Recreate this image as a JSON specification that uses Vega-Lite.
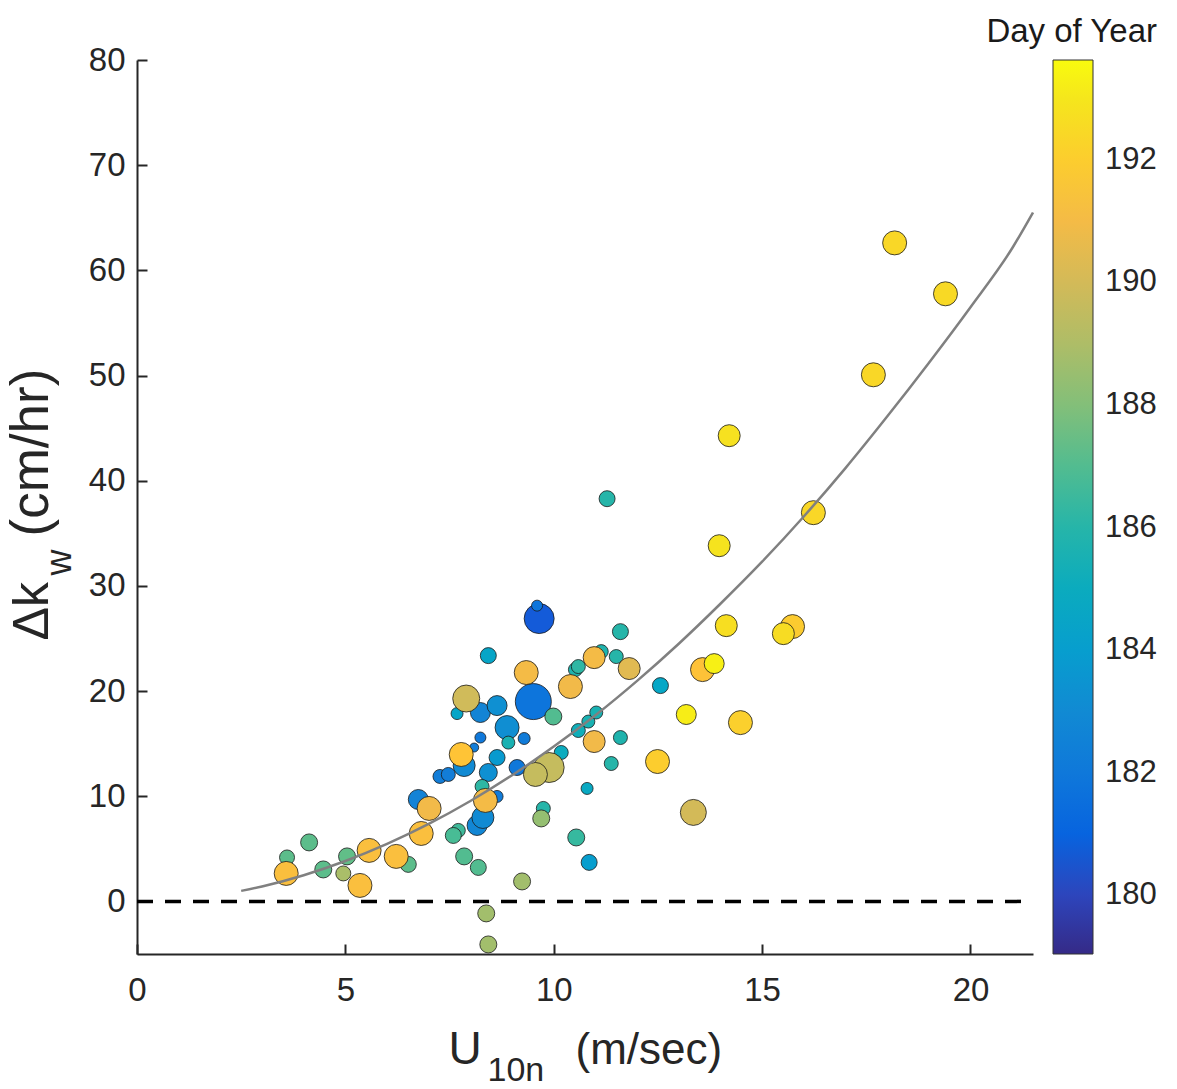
{
  "$schema": "https://vega.github.io/schema/vega-lite/v6.json",
  "width": 896,
  "height": 894,
  "autosize": {"type": "none"},
  "padding": {"left": 137, "top": 60, "right": 144, "bottom": 135},
  "background": "white",
  "config": {
    "view": {"stroke": null},
    "font": "Liberation Sans",
    "axis": {
      "domainColor": "#262626", "domainWidth": 2,
      "tickColor": "#262626", "tickWidth": 2,
      "labelColor": "#262626", "titleColor": "#262626",
      "titleFontWeight": "normal", "labelFont": "Liberation Sans", "titleFont": "Liberation Sans",
      "grid": false, "labelFlush": false
    }
  },
  "resolve": {
    "scale": {"x": "independent", "y": "independent"},
    "axis": {"x": "independent", "y": "independent"}
  },
  "layer": [
    {
      "data": {"values": [
        {"u": 9.65, "dk": 26.89, "doy": 180.7, "w": 30},
        {"u": 9.60, "dk": 28.12, "doy": 181.8, "w": 11},
        {"u": 9.51, "dk": 19.0, "doy": 181.8, "w": 36},
        {"u": 9.12, "dk": 12.73, "doy": 182.0, "w": 16},
        {"u": 8.24, "dk": 15.58, "doy": 182.0, "w": 11},
        {"u": 9.29, "dk": 15.49, "doy": 182.2, "w": 12},
        {"u": 8.64, "dk": 9.98, "doy": 182.2, "w": 12},
        {"u": 7.27, "dk": 11.88, "doy": 182.3, "w": 14},
        {"u": 7.47, "dk": 12.07, "doy": 182.3, "w": 14},
        {"u": 8.09, "dk": 14.63, "doy": 182.3, "w": 9},
        {"u": 6.75, "dk": 9.69, "doy": 182.6, "w": 20},
        {"u": 8.24, "dk": 17.96, "doy": 182.7, "w": 20},
        {"u": 8.16, "dk": 7.22, "doy": 182.8, "w": 20},
        {"u": 7.85, "dk": 12.92, "doy": 183.0, "w": 22},
        {"u": 8.30, "dk": 7.98, "doy": 183.0, "w": 22},
        {"u": 8.88, "dk": 16.53, "doy": 183.2, "w": 24},
        {"u": 8.64, "dk": 18.62, "doy": 183.3, "w": 20},
        {"u": 8.43, "dk": 12.26, "doy": 183.3, "w": 18},
        {"u": 8.64, "dk": 13.68, "doy": 183.8, "w": 16},
        {"u": 10.85, "dk": 3.71, "doy": 184.0, "w": 16},
        {"u": 7.68, "dk": 17.86, "doy": 184.5, "w": 12},
        {"u": 8.43, "dk": 23.37, "doy": 184.5, "w": 16},
        {"u": 12.56, "dk": 20.52, "doy": 184.6, "w": 16},
        {"u": 10.80, "dk": 10.74, "doy": 184.8, "w": 12},
        {"u": 10.18, "dk": 14.16, "doy": 185.0, "w": 14},
        {"u": 10.59, "dk": 16.25, "doy": 185.3, "w": 14},
        {"u": 8.91, "dk": 15.1, "doy": 185.6, "w": 13},
        {"u": 10.83, "dk": 17.1, "doy": 185.6, "w": 13},
        {"u": 11.02, "dk": 17.96, "doy": 185.6, "w": 13},
        {"u": 11.6, "dk": 15.58, "doy": 185.8, "w": 14},
        {"u": 10.52, "dk": 22.04, "doy": 185.8, "w": 14},
        {"u": 11.14, "dk": 23.75, "doy": 185.8, "w": 14},
        {"u": 9.75, "dk": 8.84, "doy": 186.0, "w": 14},
        {"u": 11.38, "dk": 13.11, "doy": 186.0, "w": 14},
        {"u": 11.5, "dk": 23.28, "doy": 186.0, "w": 14},
        {"u": 11.6, "dk": 25.65, "doy": 186.0, "w": 16},
        {"u": 11.28, "dk": 38.29, "doy": 186.0, "w": 16},
        {"u": 8.28, "dk": 10.93, "doy": 186.2, "w": 14},
        {"u": 10.59, "dk": 22.33, "doy": 186.2, "w": 14},
        {"u": 10.54, "dk": 6.08, "doy": 186.4, "w": 17},
        {"u": 7.71, "dk": 6.75, "doy": 186.6, "w": 14},
        {"u": 7.59, "dk": 6.27, "doy": 186.8, "w": 16},
        {"u": 7.85, "dk": 4.28, "doy": 187.0, "w": 17},
        {"u": 8.19, "dk": 3.23, "doy": 187.0, "w": 16},
        {"u": 9.99, "dk": 17.58, "doy": 187.0, "w": 17},
        {"u": 3.60, "dk": 4.18, "doy": 187.2, "w": 15},
        {"u": 4.13, "dk": 5.61, "doy": 187.2, "w": 17},
        {"u": 4.47, "dk": 3.04, "doy": 187.2, "w": 17},
        {"u": 6.51, "dk": 3.52, "doy": 187.2, "w": 16},
        {"u": 5.04, "dk": 4.28, "doy": 187.3, "w": 17},
        {"u": 9.70, "dk": 7.89, "doy": 188.4, "w": 17},
        {"u": 9.24, "dk": 1.9, "doy": 188.7, "w": 17},
        {"u": 8.38, "dk": -1.14, "doy": 188.7, "w": 17},
        {"u": 8.43, "dk": -4.09, "doy": 188.7, "w": 17},
        {"u": 4.95, "dk": 2.66, "doy": 188.9, "w": 15},
        {"u": 9.89, "dk": 12.73, "doy": 189.6, "w": 30},
        {"u": 9.56, "dk": 12.07, "doy": 189.6, "w": 24},
        {"u": 7.90, "dk": 19.29, "doy": 189.9, "w": 27},
        {"u": 13.35, "dk": 8.46, "doy": 190.0, "w": 26},
        {"u": 11.81, "dk": 22.14, "doy": 190.4, "w": 22},
        {"u": 7.01, "dk": 8.84, "doy": 190.9, "w": 24},
        {"u": 10.97, "dk": 15.2, "doy": 190.9, "w": 22},
        {"u": 10.40, "dk": 20.43, "doy": 190.9, "w": 24},
        {"u": 8.36, "dk": 9.6, "doy": 191.0, "w": 24},
        {"u": 9.34, "dk": 21.76, "doy": 191.0, "w": 24},
        {"u": 10.97, "dk": 23.18, "doy": 191.0, "w": 22},
        {"u": 3.58, "dk": 2.66, "doy": 191.3, "w": 24},
        {"u": 5.35, "dk": 1.52, "doy": 191.3, "w": 24},
        {"u": 5.57, "dk": 4.85, "doy": 191.3, "w": 24},
        {"u": 6.22, "dk": 4.28, "doy": 191.3, "w": 24},
        {"u": 6.82, "dk": 6.46, "doy": 191.3, "w": 24},
        {"u": 13.57, "dk": 22.04, "doy": 191.5, "w": 24},
        {"u": 7.78, "dk": 13.97, "doy": 191.6, "w": 24},
        {"u": 15.73, "dk": 26.13, "doy": 191.9, "w": 24},
        {"u": 12.49, "dk": 13.3, "doy": 192.0, "w": 24},
        {"u": 14.48, "dk": 17.0, "doy": 192.1, "w": 24},
        {"u": 16.23, "dk": 36.96, "doy": 192.4, "w": 24},
        {"u": 17.67, "dk": 50.07, "doy": 192.4, "w": 24},
        {"u": 18.18, "dk": 62.61, "doy": 192.4, "w": 24},
        {"u": 19.40, "dk": 57.77, "doy": 192.5, "w": 24},
        {"u": 15.51, "dk": 25.46, "doy": 192.6, "w": 22},
        {"u": 14.14, "dk": 26.22, "doy": 192.7, "w": 22},
        {"u": 14.21, "dk": 44.28, "doy": 192.8, "w": 22},
        {"u": 13.97, "dk": 33.82, "doy": 192.9, "w": 22},
        {"u": 13.18, "dk": 17.77, "doy": 193.2, "w": 20},
        {"u": 13.85, "dk": 22.61, "doy": 193.3, "w": 20}
      ]},
      "mark": {"type": "point", "shape": "circle", "filled": true, "opacity": 1, "stroke": "#1a1a1a", "strokeWidth": 0.8},
      "encoding": {
        "x": {"field": "u", "type": "quantitative",
          "scale": {"domain": [0, 21.5], "nice": false, "zero": false},
          "axis": {"orient": "bottom", "values": [0, 5, 10, 15, 20], "title": "U",
            "titleX": 311, "titleY": 109, "titleAlign": "left", "titleAnchor": "start", "titleBaseline": "alphabetic",
            "titleFontSize": 46, "labelFontSize": 33, "labelPadding": 30, "tickSize": -10}},
        "y": {"field": "dk", "type": "quantitative",
          "scale": {"domain": [-5, 80], "nice": false, "zero": false},
          "axis": {"orient": "left", "values": [0, 10, 20, 30, 40, 50, 60, 70, 80], "title": "Δk",
            "titleX": -90, "titleY": 580, "titleAngle": 270, "titleAlign": "left", "titleAnchor": "start", "titleBaseline": "alphabetic",
            "titleFontSize": 50, "labelFontSize": 33, "labelPadding": 22, "tickSize": -10}},
        "color": {"field": "doy", "type": "quantitative",
          "scale": {"domain": [179.04, 193.63], "interpolate": "rgb",
            "range": ["#352a87", "#353dad", "#2053d4", "#0268e1", "#0d75dc", "#1481d6", "#108ed2", "#079ccf", "#06a7c6", "#0faeb9", "#25b5a9", "#42bb98", "#65be86", "#87bf77", "#a5be6b", "#c0bc60", "#d9ba56", "#f1b94a", "#ffc337", "#fad32a", "#f5e41d", "#f9fb0e"]},
          "legend": {"orient": "none", "legendX": 849, "legendY": -44, "direction": "vertical",
            "gradientLength": 894, "gradientThickness": 40, "gradientStrokeColor": "#333333", "gradientStrokeWidth": 1,
            "title": "Day of Year", "titleFontSize": 33, "titleFontWeight": "normal", "titleColor": "#1a1a1a",
            "titleAnchor": "end", "titleAlign": "right", "titlePadding": 11, "titleLimit": 400, "titleFont": "Liberation Sans",
            "labelFontSize": 31, "labelColor": "#262626", "labelOffset": 12, "labelFont": "Liberation Sans",
            "values": [180, 182, 184, 186, 188, 190, 192], "labelOverlap": false}},
        "size": {"field": "w", "type": "quantitative",
          "scale": {"type": "pow", "exponent": 2, "domain": [0, 36], "range": [0, 1296], "zero": true},
          "legend": null}
      }
    },
    {
      "data": {"values": [
        {"u": 2.5, "k": 1.0}, {"u": 3, "k": 1.42}, {"u": 4, "k": 2.49}, {"u": 5, "k": 3.84},
        {"u": 6, "k": 5.47}, {"u": 7, "k": 7.37}, {"u": 8, "k": 9.55}, {"u": 9, "k": 12.0},
        {"u": 10, "k": 14.72}, {"u": 11, "k": 17.7}, {"u": 12, "k": 20.97}, {"u": 13, "k": 24.5},
        {"u": 14, "k": 28.3}, {"u": 15, "k": 32.3}, {"u": 16, "k": 36.6}, {"u": 17, "k": 41.2},
        {"u": 18, "k": 46.1}, {"u": 19, "k": 51.2}, {"u": 20, "k": 56.5}, {"u": 21, "k": 62.1},
        {"u": 21.5, "k": 65.5}
      ]},
      "mark": {"type": "line", "color": "#808080", "strokeWidth": 2.5, "interpolate": "monotone"},
      "encoding": {
        "x": {"field": "u", "type": "quantitative",
          "scale": {"domain": [0, 21.5], "nice": false, "zero": false},
          "axis": {"orient": "bottom", "labels": false, "ticks": false, "domain": false, "title": "10n",
            "titleX": 350, "titleY": 126, "titleAlign": "left", "titleAnchor": "start", "titleBaseline": "alphabetic",
            "titleFontSize": 34}},
        "y": {"field": "k", "type": "quantitative",
          "scale": {"domain": [-5, 80], "nice": false, "zero": false},
          "axis": {"orient": "left", "labels": false, "ticks": false, "domain": false, "title": "w",
            "titleX": -67, "titleY": 515, "titleAngle": 270, "titleAlign": "left", "titleAnchor": "start", "titleBaseline": "alphabetic",
            "titleFontSize": 36}}
      }
    },
    {
      "data": {"values": [{"a": 0, "b": 21.5, "z": 0}]},
      "mark": {"type": "rule", "color": "black", "strokeWidth": 3.5, "strokeDash": [16, 12]},
      "encoding": {
        "x": {"field": "a", "type": "quantitative",
          "scale": {"domain": [0, 21.5], "nice": false, "zero": false},
          "axis": {"orient": "bottom", "labels": false, "ticks": false, "domain": false, "title": "(m/sec)",
            "titleX": 438, "titleY": 109, "titleAlign": "left", "titleAnchor": "start", "titleBaseline": "alphabetic",
            "titleFontSize": 44}},
        "x2": {"field": "b"},
        "y": {"field": "z", "type": "quantitative",
          "scale": {"domain": [-5, 80], "nice": false, "zero": false},
          "axis": {"orient": "left", "labels": false, "ticks": false, "domain": false, "title": "(cm/hr)",
            "titleX": -90, "titleY": 476, "titleAngle": 270, "titleAlign": "left", "titleAnchor": "start", "titleBaseline": "alphabetic",
            "titleFontSize": 53}}
      }
    }
  ]
}
